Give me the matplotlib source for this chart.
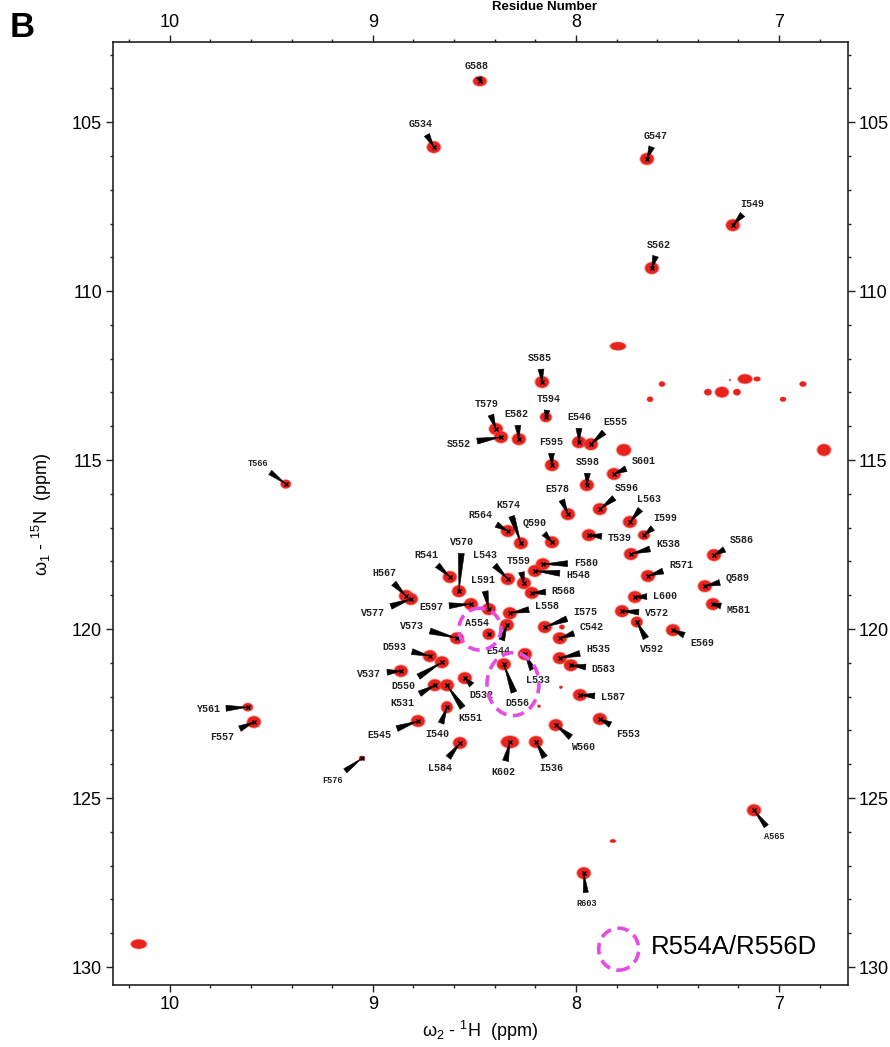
import matplotlib
matplotlib.use('Agg')
import matplotlib.pyplot as plt
from matplotlib.patches import Ellipse
from matplotlib.ticker import MultipleLocator

plt.rcParams['font.family'] = ['Liberation Sans', 'DejaVu Sans']
plt.rcParams['mathtext.fontset'] = 'custom'
plt.rcParams['mathtext.rm'] = 'Liberation Sans'

# ---------------- data: assigned peaks (1H ppm, 15N ppm) ----------------
residues = ['G588', 'G534', 'G547', 'I549', 'S562', 'S585', 'T579', 'S552', 'E582', 'T594',
            'E546', 'E555', 'F595', 'S598', 'S601', 'E578', 'S596', 'L563', 'I599', 'T539',
            'K538', 'R564', 'K574', 'Q590', 'R541', 'V570', 'H567', 'V577', 'E597', 'V573',
            'D593', 'D550', 'V537', 'K531', 'K551', 'D532', 'I540', 'E545', 'Y561', 'F557',
            'L584', 'L543', 'T559', 'F580', 'H548', 'R568', 'L591', 'L558', 'I575', 'C542',
            'A554', 'E544', 'L533', 'D556', 'H535', 'D583', 'L587', 'F553', 'W560', 'K602',
            'I536', 'S586', 'Q589', 'M581', 'R571', 'L600', 'V572', 'V592', 'E569', 'T566',
            'F576', 'A565', 'R603']
h_ppm = [8.473, 8.700, 7.650, 7.227, 7.626, 8.167, 8.394, 8.369, 8.281, 8.148,
         7.985, 7.926, 8.118, 7.946, 7.813, 8.039, 7.882, 7.734, 7.665, 7.936,
         7.729, 8.335, 8.271, 8.118, 8.621, 8.576, 8.837, 8.813, 8.517, 8.586,
         8.719, 8.660, 8.862, 8.695, 8.635, 8.547, 8.635, 8.778, 9.616, 9.586,
         8.571, 8.335, 8.256, 8.163, 8.202, 8.217, 8.429, 8.325, 8.153, 8.079,
         8.429, 8.340, 8.251, 8.355, 8.079, 8.025, 7.980, 7.882, 8.099, 8.325,
         8.197, 7.320, 7.365, 7.325, 7.645, 7.709, 7.773, 7.700, 7.522, 9.429,
         9.054, 7.123, 7.961]
n_ppm = [103.79, 105.74, 106.09, 108.05, 109.32, 112.69, 114.08, 114.32, 114.38, 113.73,
         114.47, 114.53, 115.15, 115.74, 115.41, 116.60, 116.45, 116.83, 117.22, 117.22,
         117.78, 117.10, 117.46, 117.43, 118.46, 118.88, 119.02, 119.11, 119.26, 120.27,
         120.80, 120.98, 121.24, 121.66, 121.66, 121.45, 122.31, 122.72, 122.31, 122.75,
         123.37, 118.52, 118.64, 118.08, 118.28, 118.93, 119.41, 119.53, 119.94, 120.27,
         120.15, 119.88, 120.74, 121.04, 120.86, 121.07, 121.95, 122.66, 122.84, 123.34,
         123.34, 117.81, 118.73, 119.26, 118.43, 119.05, 119.47, 119.79, 120.03, 115.71,
         123.82, 125.36, 127.22]

# unassigned peaks
un_h = [7.793, 7.576, 7.635, 7.350, 7.281, 7.207, 7.167, 7.108, 6.980, 6.882,
        7.764, 6.778, 10.153, 7.818, 8.069, 8.074, 8.182, 7.241]
un_n = [111.63, 112.75, 113.20, 112.99, 112.99, 112.99, 112.60, 112.60, 113.20, 112.75,
        114.70, 114.70, 129.32, 126.27, 119.94, 121.72, 122.28, 112.63]

# ---------------- layout / style ----------------
# label offsets in pixels (right, up) relative to the peak
label_offsets = {
    'G588': (-3, 15), 'G534': (-13, 23), 'G547': (9, 23), 'I549': (19, 21), 'S562': (7, 23),
    'S585': (-2, 24), 'T579': (-9, 25), 'S552': (-42, -7), 'E582': (-2, 25), 'T594': (3, 18),
    'E546': (0, 25), 'E555': (24, 22), 'F595': (-1, 23), 'S598': (1, 23), 'S601': (30, 13),
    'E578': (-11, 25), 'S596': (27, 21), 'L563': (19, 23), 'I599': (21, 17), 'T539': (31, -3),
    'K538': (37, 10), 'R564': (-28, 16), 'K574': (-13, 38), 'Q590': (-17, 19), 'R541': (-23, 22),
    'V570': (3, 49), 'H567': (-22, 23), 'V577': (-38, -14), 'E597': (-40, -3), 'V573': (-45, 12),
    'D593': (-36, 9), 'D550': (-39, -24), 'V537': (-32, -3), 'K531': (-32, -18), 'K551': (23, -33),
    'D532': (17, -17), 'I540': (-10, -27), 'E545': (-39, -14), 'Y561': (-40, -2), 'F557': (-32, -15),
    'L584': (-20, -25), 'L543': (-23, 24), 'T559': (-5, 22), 'F580': (43, 1), 'H548': (43, -4),
    'R568': (32, 2), 'L591': (-6, 29), 'L558': (37, 7), 'I575': (40, 15), 'C542': (32, 11),
    'A554': (-12, 11), 'E544': (-9, -26), 'L533': (13, -26), 'D556': (14, -39), 'H535': (38, 9),
    'D583': (33, -4), 'L587': (33, -2), 'F553': (28, -15), 'W560': (27, -22), 'K602': (-7, -30),
    'I536': (15, -26), 'S586': (28, 15), 'Q589': (33, 8), 'M581': (26, -6), 'R571': (33, 11),
    'L600': (30, 1), 'V572': (35, -2), 'V592': (15, -27), 'E569': (29, -13), 'T566': (-28, 21),
    'F576': (-29, -22), 'A565': (20, -26), 'R603': (3, -30),
}
no_wedge = {'A554'}
small_labels = {'T566', 'F576', 'A565', 'R603'}
peak_scale = {'F576': (0.45, 0.4), 'T566': (0.75, 0.75), 'Y561': (0.75, 0.7), 'G588': (1.0, 0.85),
              'K602': (1.3, 1.05), 'I540': (0.85, 1.0), 'T594': (0.85, 0.85), 'I599': (0.85, 0.8),
              'V592': (0.85, 0.9), 'A554': (0.9, 0.95)}
un_scale = [(1.15, 0.7), (0.45, 0.45), (0.45, 0.45), (0.55, 0.55), (1.0, 0.9), (0.55, 0.55),
            (1.05, 0.8), (0.5, 0.4), (0.45, 0.4), (0.5, 0.45), (1.05, 1.0), (1.0, 1.0),
            (1.15, 0.8), (0.45, 0.3), (0.4, 0.4), (0.25, 0.25), (0.25, 0.25), (0.15, 0.15)]

W0, H0 = 0.066, 0.34   # default peak footprint (ppm)
RED = '#e8231e'
EDGE = '#f2645a'
MAG = '#e64be6'

fig = plt.figure(figsize=(8.9, 10.47), dpi=100)
ax = fig.add_axes([113 / 890, 1 - 985 / 1047, (848 - 113) / 890, (985 - 42) / 1047])
ax.set_xlim(10.28, 6.66)
ax.set_ylim(130.53, 102.63)


def draw_peak(h, n, sw, sh):
    ax.add_patch(Ellipse((h, n), W0 * sw * 1.15, H0 * sh * 1.15, facecolor=EDGE,
                         edgecolor='none', alpha=0.55, zorder=2))
    ax.add_patch(Ellipse((h, n), W0 * sw, H0 * sh, facecolor=RED,
                         edgecolor='none', zorder=2))


for h, n, (sw, sh) in zip(un_h, un_n, un_scale):
    draw_peak(h, n, sw, sh)

for name, h, n in zip(residues, h_ppm, n_ppm):
    sw, sh = peak_scale.get(name, (1.0, 1.0))
    draw_peak(h, n, sw, sh)

ax.plot(h_ppm, n_ppm, 'x', color='black', ms=3.2, mew=1.0, zorder=3, ls='none')

for name, h, n in zip(residues, h_ppm, n_ppm):
    dx, dy = label_offsets[name]
    fs = 6.2 if name in small_labels else 7.2
    kw = {}
    if name not in no_wedge:
        kw['arrowprops'] = dict(arrowstyle='wedge,tail_width=0.6,shrink_factor=0.5',
                                fc='black', ec='black', lw=0.4, shrinkA=2.5, shrinkB=0)
    ax.annotate(name, xy=(h, n), xytext=(dx, dy), textcoords='offset pixels',
                ha='center', va='center', fontsize=fs, family='Liberation Mono',
                fontweight='bold', color='#222222', zorder=4, **kw)

# highlighted (mutated) residues
ax.add_patch(Ellipse((8.473, 120.0), 0.207, 1.24, fill=False, edgecolor=MAG, lw=2.6,
                     linestyle=(0, (3.2, 1.8)), zorder=5))
ax.add_patch(Ellipse((8.310, 121.63), 0.256, 1.86, fill=False, edgecolor=MAG, lw=2.6,
                     linestyle=(0, (3.2, 1.8)), zorder=5))

# legend
ax.add_patch(Ellipse((0.688, 0.038), 0.0544, 0.0445, transform=ax.transAxes, fill=False,
                     edgecolor=MAG, lw=2.6, linestyle=(0, (3.2, 1.8)), zorder=5))
ax.text(0.732, 0.040, 'R554A/R556D', transform=ax.transAxes, ha='left', va='center',
        fontsize=18.5, color='black')

# axes styling
ax.xaxis.set_major_locator(MultipleLocator(1))
ax.xaxis.set_minor_locator(MultipleLocator(0.2))
ax.yaxis.set_major_locator(MultipleLocator(5))
ax.yaxis.set_minor_locator(MultipleLocator(1))
ax.tick_params(which='both', direction='out', top=True, right=True, labeltop=True,
               labelright=True, labelsize=13, width=1.0, color='#222222')
ax.tick_params(which='major', length=5, pad=3)
ax.tick_params(which='minor', length=2.5)
for s in ax.spines.values():
    s.set_linewidth(1.2)
    s.set_color('#222222')

fig.text(480 / 890, 1 - 1031 / 1047, r'$\mathregular{ω_2}$ - $\mathregular{^1}$H  (ppm)',
         ha='center', va='center', fontsize=13)
fig.text(42 / 890, 1 - 514 / 1047, r'$\mathregular{ω_1}$ - $\mathregular{^{15}}$N  (ppm)',
         ha='center', va='center', rotation=90, fontsize=13)
fig.text(545 / 890, 1 - 1 / 1047, 'Residue Number', ha='center', va='top',
         fontsize=9.5, fontweight='bold')
fig.text(10 / 890, 1 - 37 / 1047, 'B', ha='left', va='baseline', fontsize=25,
         fontweight='bold')

fig.savefig('out.png', dpi=100, facecolor='white')
